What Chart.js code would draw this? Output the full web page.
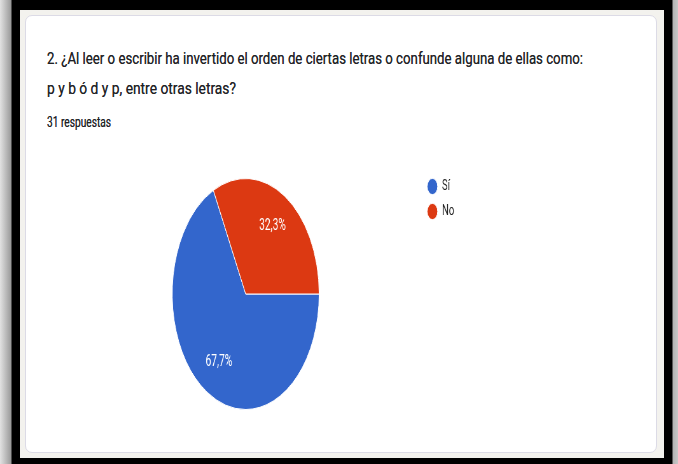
<!DOCTYPE html>
<html>
<head>
<meta charset="utf-8">
<script src="https://cdn.jsdelivr.net/npm/chart.js@4.4.0/dist/chart.umd.min.js"></script>
<style>
  html, body { margin: 0; padding: 0; }
  body {
    width: 678px; height: 464px; overflow: hidden; position: relative;
    background: linear-gradient(to right, #e2e2e2 0px, #9a9a9a 11px, #000 12px, #000 672px, #b4b4b4 673px, #c8c8c8 678px);
    font-family: Roboto, "Noto Sans", sans-serif;
  }
  #frame { position: absolute; left: 12px; top: 0; width: 660px; height: 464px; background: #000; }
  #page { position: absolute; left: 20px; top: 10px; width: 644px; height: 448px; background: #f3f2ee; }
  #card {
    position: absolute; left: 25px; top: 15px; width: 630px; height: 436px;
    background: #fff; border: 1px solid #dcdbe6; border-radius: 7px;
  }
  .txt {
    position: absolute; left: 47px; white-space: nowrap; color: #202124;
    line-height: 1; transform-origin: 0 0;
    text-shadow: 0 0 0.6px rgba(32, 33, 36, 0.7);
  }
  #t1, #t2 { font-size: 16px; }
  #t1 { top: 51px; }
  #t2 { top: 81px; }
  #resp { font-size: 14px; top: 115px; }
  #pie {
    position: absolute; left: 30px; top: 150px;
    transform: scaleX(0.636); transform-origin: 0 0;
  }
</style>
</head>
<body>
<div id="frame"></div>
<div id="page"></div>
<div id="card"></div>
<div class="txt" id="t1" data-w="536">2. ¿Al leer o escribir ha invertido el orden de ciertas letras o confunde alguna de ellas como:</div>
<div class="txt" id="t2" data-w="189">p y b ó d y p, entre otras letras?</div>
<div class="txt" id="resp" data-w="64">31 respuestas</div>
<canvas id="pie" width="700" height="300"></canvas>
<script>
// answers to question 2
const labels = ['Sí', 'No'];
const counts = [21, 10];
const colors = ['#3366cc', '#dc3912'];

// squeeze each text line to the width it has in the picture
function fitText() {
  document.querySelectorAll('.txt').forEach(el => {
    el.style.transform = 'none';
    const w = el.getBoundingClientRect().width;
    el.style.transform = 'scaleX(' + (parseFloat(el.dataset.w) / w) + ')';
  });
}
fitText();
if (document.fonts) document.fonts.ready.then(fitText);

// percentages written inside the slices
const sliceLabels = {
  id: 'sliceLabels',
  afterDatasetsDraw(chart) {
    const ctx = chart.ctx;
    const total = counts.reduce((a, b) => a + b, 0);
    chart.getDatasetMeta(0).data.forEach((arc, i) => {
      const p = arc.getProps(['x', 'y', 'startAngle', 'endAngle', 'outerRadius'], true);
      const mid = (p.startAngle + p.endAngle) / 2;
      const r = p.outerRadius * 0.69;
      const txt = (counts[i] / total * 100).toFixed(1).replace('.', ',') + '%';
      ctx.save();
      ctx.fillStyle = '#fff';
      ctx.font = '16px Roboto';
      ctx.textAlign = 'center';
      ctx.textBaseline = 'middle';
      ctx.fillText(txt, p.x + Math.cos(mid) * r, p.y + Math.sin(mid) * r);
      ctx.restore();
    });
  }
};

new Chart(document.getElementById('pie'), {
  type: 'pie',
  data: {
    labels: labels,
    datasets: [{
      data: counts,
      backgroundColor: colors,
      borderColor: '#fff',
      borderWidth: 1
    }]
  },
  options: {
    responsive: false,
    animation: false,
    rotation: 90,
    radius: 115.5,
    layout: { padding: { left: 63, right: 23, top: 19, bottom: 31 } },
    plugins: {
      tooltip: { enabled: false },
      legend: {
        position: 'right',
        align: 'start',
        labels: {
          usePointStyle: true,
          pointStyle: 'circle',
          boxWidth: 15,
          boxHeight: 11.5,
          padding: 10,
          color: '#222',
          font: { family: 'Roboto', size: 15 }
        }
      }
    }
  },
  plugins: [sliceLabels]
});
</script>
</body>
</html>
